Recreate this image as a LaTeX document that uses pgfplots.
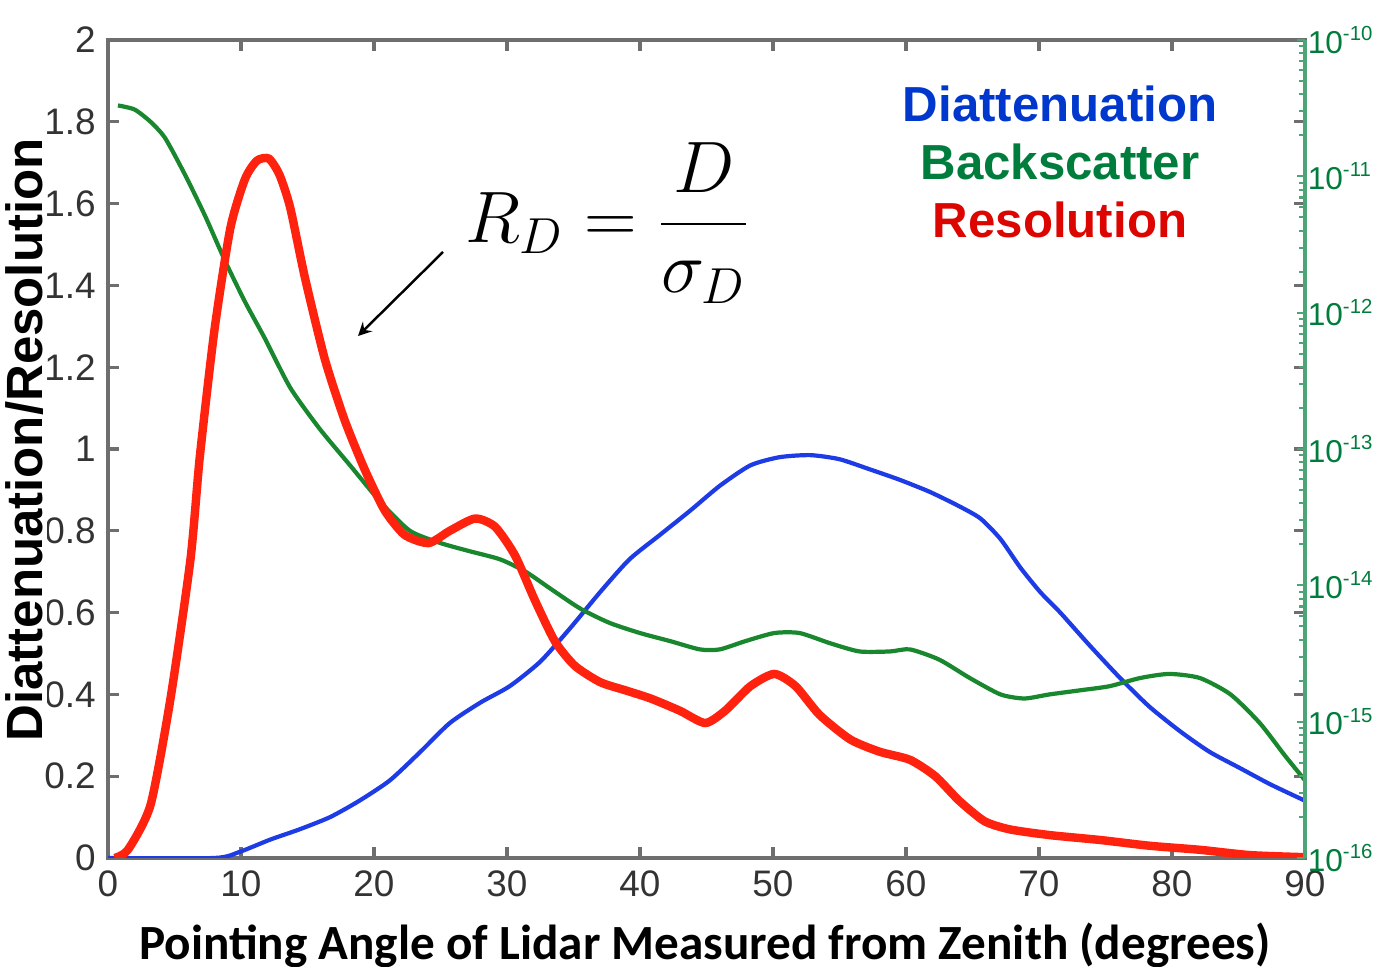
\documentclass[border=0pt]{standalone}
\usepackage{pgfplots}
\pgfplotsset{compat=1.18}
\usepackage{pgfplotstable}
\usepackage{fontspec}
\setmainfont{Liberation Sans}
\newfontfamily\calibri{Carlito}

\definecolor{dblue}{RGB}{30,60,230}
\definecolor{dgreen}{RGB}{25,135,45}
\definecolor{dred}{RGB}{255,35,15}
\definecolor{lblue}{RGB}{0,55,205}
\definecolor{lgreen}{RGB}{0,125,60}
\definecolor{lred}{RGB}{220,5,0}
\definecolor{axgray}{RGB}{110,110,110}

\newcommand{\dec}[1]{10\raisebox{0.75ex}{\fontsize{5.8}{6}\selectfont -#1}}

% Diattenuation
\pgfplotstableread{
x y
0 0
8 0
9.9 0.015
12.2 0.045
14.4 0.07
16.7 0.10
18.9 0.14
21.2 0.19
23.5 0.26
25.7 0.33
28 0.38
30.2 0.42
32.5 0.48
34.7 0.56
37 0.65
39.2 0.73
41.5 0.79
43.8 0.85
46 0.91
48.3 0.96
50.5 0.98
52.8 0.985
55 0.975
57.3 0.95
59.5 0.925
61.8 0.895
64 0.86
65.6 0.83
67.1 0.78
68.6 0.71
70.1 0.65
71.6 0.60
73.8 0.52
76.1 0.44
78.3 0.37
80.6 0.31
82.8 0.26
85.1 0.22
87.4 0.18
90 0.14
}\diatt

% Backscatter
\pgfplotstableread{
x y
0.75 1.84
2 1.83
3.2 1.80
4.3 1.76
5.8 1.67
7.3 1.57
8.8 1.46
10.3 1.36
11.8 1.27
13.7 1.15
15.9 1.05
18.2 0.96
20.5 0.87
22.7 0.80
25 0.77
27.2 0.75
29.5 0.73
31.4 0.70
33.2 0.66
35.5 0.61
37.7 0.575
40 0.55
42.3 0.53
44.5 0.51
46 0.51
47.9 0.53
50.1 0.55
52 0.55
54.3 0.525
56.5 0.505
58.8 0.505
60.3 0.51
62.5 0.485
64.8 0.44
67.1 0.40
68.9 0.39
70.8 0.40
73.1 0.41
75.3 0.42
77.6 0.44
79.8 0.45
82.1 0.44
84.4 0.40
86.6 0.33
88.5 0.25
90 0.19
}\backsc

% Resolution
\pgfplotstableread{
x y
0.5 0
1.5 0.02
3.2 0.13
4.7 0.39
6.2 0.73
6.9 0.98
8.0 1.29
9.2 1.54
10.3 1.66
11.2 1.705
12.1 1.71
12.9 1.67
13.7 1.59
14.8 1.42
16.3 1.22
17.8 1.07
19.3 0.95
20.8 0.85
22.3 0.79
24.1 0.77
25.7 0.80
27.6 0.83
29.1 0.81
30.6 0.74
32.1 0.63
33.6 0.53
35.1 0.47
37 0.43
38.9 0.41
40.8 0.39
43 0.36
44.9 0.33
46.4 0.36
48.3 0.42
50.1 0.45
51.7 0.42
53.5 0.35
55.8 0.29
58 0.26
60.3 0.24
62.2 0.20
64 0.14
65.9 0.09
67.8 0.07
70.8 0.056
74.6 0.044
78.3 0.03
82.1 0.02
85.9 0.007
90 0.002
}\resol

\begin{document}
\begin{tikzpicture}
\useasboundingbox (-1.08,-1.09) rectangle (12.65,8.58);

\begin{axis}[
  at={(0,0)}, anchor=south west,
  scale only axis, width=11.97cm, height=8.18cm,
  xmin=0, xmax=90, ymin=0, ymax=2,
  xtick={0,10,...,90}, ytick={0,0.2,...,2.01},
  yticklabels={0,0.2,0.4,0.6,0.8,1,1.2,1.4,1.6,1.8,2},
  xtick pos=both, ytick pos=both,
  tick align=inside, major tick length=0.11cm,
  axis line style={axgray, line width=0.9pt},
  tick style={axgray, line width=0.9pt},
  ticklabel style={font=\fontsize{10.5}{12}\selectfont, text=black!80},
  /pgf/number format/assume math mode=true,
  clip=true,
]
\addplot[dblue, line width=1.2pt, smooth, tension=0.4] table {\diatt};
\addplot[dgreen, line width=1.2pt, smooth, tension=0.4] table {\backsc};
\addplot[dred, line width=2.4pt, smooth, tension=0.4] table {\resol};
\end{axis}

\begin{axis}[
  at={(0,0)}, anchor=south west,
  scale only axis, width=11.97cm, height=8.18cm,
  xmin=0, xmax=90, ymode=log, ymin=1e-16, ymax=1e-10,
  axis x line=none, axis y line*=right,
  ytick={1e-16,1e-15,1e-14,1e-13,1e-12,1e-11,1e-10},
  yticklabels={\dec{16},\dec{15},\dec{14},\dec{13},\dec{12},\dec{11},\dec{10}},
  tick align=inside, major tick length=0.08cm, minor tick length=0.06cm,
  axis line style={lgreen!70, line width=0.9pt},
  tick style={lgreen!70, line width=0.6pt},
  yticklabel style={font=\fontsize{9}{10}\selectfont, text=lgreen, inner xsep=0.6pt},
]
\addplot[draw=none] coordinates {(0,1e-13)};
\end{axis}

% annotations (pixel/100 relative to axis corner)
\node[font=\fontsize{21}{25}\selectfont] at (5.0,6.35) {$\displaystyle R_D = \frac{D}{\sigma_D}$};
\draw[-stealth, line width=0.7pt] (3.35,6.06) -- (2.50,5.22);

\node[font=\bfseries\fontsize{14}{16}\selectfont, text=lblue] at (9.52,7.54) {Diattenuation};
\node[font=\bfseries\fontsize{14}{16}\selectfont, text=lgreen] at (9.52,6.96) {Backscatter};
\node[font=\bfseries\fontsize{14}{16}\selectfont, text=lred] at (9.52,6.38) {Resolution};

\node[rotate=90, fill=white, inner sep=1pt, font=\bfseries\fontsize{14.5}{16}\selectfont] at (-0.83,4.18) {Diattenuation/Resolution};
\node[font=\calibri\bfseries\fontsize{14}{16}\selectfont] at (5.97,-0.87) {Pointing Angle of Lidar Measured from Zenith (degrees)};
\end{tikzpicture}
\end{document}
